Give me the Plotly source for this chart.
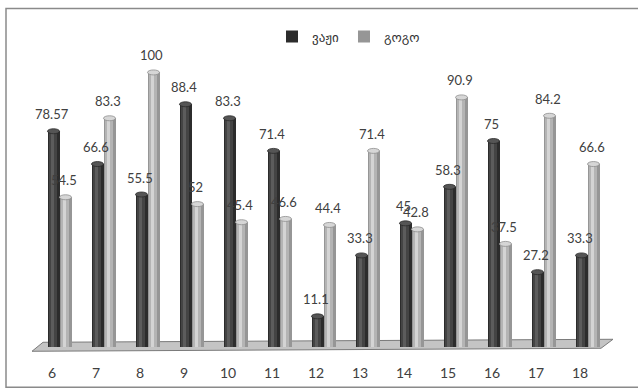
import plotly.graph_objects as go

# Age groups and the two series (percent)
categories = [6, 7, 8, 9, 10, 11, 12, 13, 14, 15, 16, 17, 18]
boys = [78.57, 66.6, 55.5, 88.4, 83.3, 71.4, 11.1, 33.3, 45, 58.3, 75, 27.2, 33.3]
girls = [54.5, 83.3, 100, 52, 45.4, 46.6, 44.4, 71.4, 42.8, 90.9, 37.5, 84.2, 66.6]
boys_label = [str(v) for v in boys]
girls_label = [str(v) for v in girls]
series_names = ["ვაჟი", "გოგო"]

PX = 44.0                 # pixels per category step
YS = 2.745                # pixels per percent
BAR_W = 12 / PX           # cylinder width in axis units
DARK_LEFT = -4.5 / PX     # left edge of the dark cylinder relative to the tick
LIGHT_LEFT = 7.5 / PX     # left edge of the light cylinder relative to the tick
CAP_H = 5 / YS            # height of the elliptical cylinder top

# shading layers: (offset inside bar in px, width in px, colour)
dark_layers = [(0, 12, "#2c2c2c"), (1.5, 7.5, "#444444"), (3, 3, "#5c5c5c")]
light_layers = [(0, 12, "#969696"), (1.5, 7.5, "#b4b4b4"), (3, 3, "#d4d4d4")]

fig = go.Figure()
shapes = []


def add_cylinder(values, left, layers, name, cap_fill, cap_line):
    for i, (off, w, col) in enumerate(layers):
        fig.add_trace(go.Bar(
            x=categories, y=values, base=0,
            offset=left + off / PX, width=w / PX,
            marker=dict(color=col, line=dict(width=0)),
            name=name, showlegend=(i == 0), legendgroup=name,
            hoverinfo="skip",
        ))
    # rounded top of each cylinder
    for c, v in zip(categories, values):
        shapes.append(dict(type="circle", xref="x", yref="y", layer="above",
                           x0=c + left, x1=c + left + BAR_W,
                           y0=v - CAP_H / 2, y1=v + CAP_H / 2,
                           fillcolor=cap_fill, line=dict(color=cap_line, width=0.8)))


add_cylinder(boys, DARK_LEFT, dark_layers, series_names[0], "#555555", "#2a2a2a")
add_cylinder(girls, LIGHT_LEFT, light_layers, series_names[1], "#d6d6d6", "#8e8e8e")

# value labels above each cylinder
annotations = []
for c, v, t in zip(categories, boys, boys_label):
    annotations.append(dict(x=c + DARK_LEFT + BAR_W / 2, y=v, text=t, xref="x", yref="y",
                            showarrow=False, yanchor="bottom", yshift=7, xshift=-2,
                            font=dict(family="Lato", size=13, color="#404040")))
for c, v, t in zip(categories, girls, girls_label):
    annotations.append(dict(x=c + LIGHT_LEFT + BAR_W / 2, y=v, text=t, xref="x", yref="y",
                            showarrow=False, yanchor="bottom", yshift=7, xshift=-2,
                            font=dict(family="Lato", size=13, color="#404040")))

x0, x1 = 6 - 38 / PX, 6 - 38 / PX + 616 / PX

shapes = [
    # floor slab under the cylinders
    dict(type="path", xref="x", yref="y", layer="below",
         path=(f"M {6 + (32 - 52) / PX},{-4.5 / YS} "
               f"L {6 + (601 - 52) / PX},{-1.5 / YS} "
               f"L {6 + (613 - 52) / PX},{7.5 / YS} "
               f"L {6 + (43 - 52) / PX},{4.5 / YS} Z"),
         fillcolor="#c4c4c4", line=dict(color="#7a7a7a", width=1)),
    # outer frame
    dict(type="rect", xref="paper", yref="paper",
         x0=(6 - 14) / 616, x1=(645 - 14) / 616,
         y0=(354.7 - 387) / 310.2, y1=(354.7 - 8) / 310.2,
         line=dict(color="#8a8a8a", width=1.5), fillcolor="rgba(0,0,0,0)"),
] + shapes

fig.update_layout(
    width=638, height=390,
    margin=dict(l=14, r=8, t=44.5, b=35.3),
    paper_bgcolor="white", plot_bgcolor="white",
    barmode="overlay", bargap=0,
    showlegend=True,
    legend=dict(orientation="h", x=(272 - 14) / 616, y=(354.7 - 21) / 310.2,
                xanchor="left", yanchor="top", bgcolor="rgba(0,0,0,0)",
                font=dict(family="DejaVu Sans", size=13, color="#333333"),
                itemwidth=30, traceorder="normal"),
    xaxis=dict(range=[x0, x1], tickmode="array", tickvals=categories,
               ticktext=[str(c) for c in categories], showgrid=False, zeroline=False,
               showline=False, ticks="outside", ticklen=5, tickcolor="rgba(0,0,0,0)",
               tickfont=dict(family="Lato", size=14, color="#404040")),
    yaxis=dict(range=[-3, 110], visible=False, showgrid=False, zeroline=False),
    annotations=annotations,
    shapes=shapes,
)

fig.write_html("out.html")
